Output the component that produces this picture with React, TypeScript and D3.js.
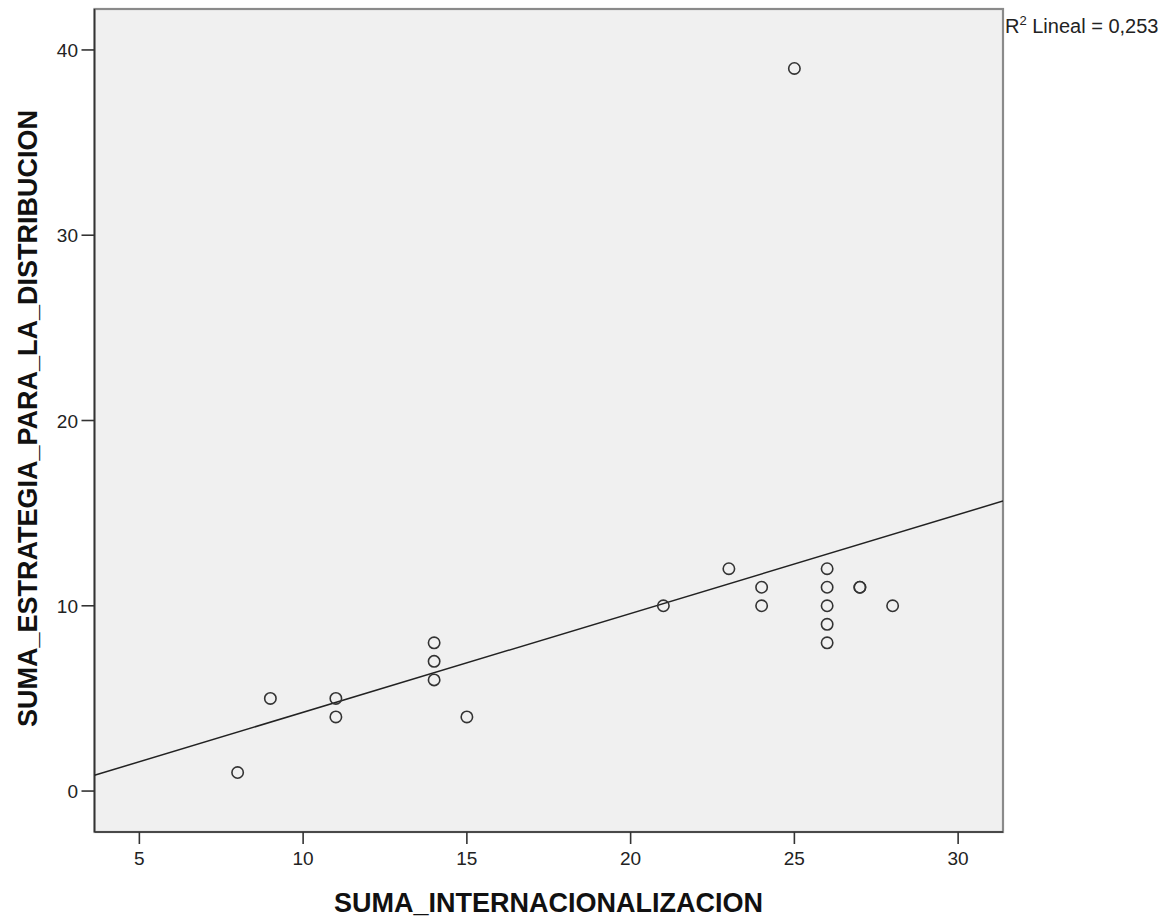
import React from "react";
import * as d3 from "d3";

const internacionalizacion = [8, 9, 11, 11, 14, 14, 14, 15, 21, 23, 24, 24, 25, 26, 26, 26, 26, 26, 27, 27, 28];
const estrategia = [1, 5, 5, 4, 8, 7, 6, 4, 10, 12, 11, 10, 39, 12, 11, 10, 9, 8, 11, 11, 10];
const xTicks = [5, 10, 15, 20, 25, 30];
const yTicks = [0, 10, 20, 30, 40];
const xTitle = "SUMA_INTERNACIONALIZACION";
const yTitle = "SUMA_ESTRATEGIA_PARA_LA_DISTRIBUCION";
const r2Label = "0,253";

export default function App() {
  const W = 1174, H = 920;
  const L = 94.5, R = 1003, T = 9, B = 832;
  const x = d3.scaleLinear().domain([3.63, 31.37]).range([L, R]);
  const y = d3.scaleLinear().domain([-2.21, 42.21]).range([B, T]);

  const n = internacionalizacion.length;
  const mx = d3.mean(internacionalizacion)!;
  const my = d3.mean(estrategia)!;
  let sxy = 0, sxx = 0;
  for (let i = 0; i < n; i++) {
    sxy += (internacionalizacion[i] - mx) * (estrategia[i] - my);
    sxx += (internacionalizacion[i] - mx) ** 2;
  }
  const slope = sxy / sxx;
  const icpt = my - slope * mx;
  const [x0, x1] = x.domain();
  const line = d3.line<number>().x((d) => x(d)).y((d) => y(icpt + slope * d));

  const font = "'Liberation Sans', Arial, sans-serif";

  return (
    <svg width={W} height={H} style={{ position: "absolute", left: 0, top: 0 }} fontFamily={font}>
      <rect x={0} y={0} width={W} height={H} fill="#fff" />
      <defs>
        <clipPath id="plot">
          <rect x={L} y={T} width={R - L} height={B - T} />
        </clipPath>
      </defs>
      <rect x={L} y={T} width={R - L} height={B - T} fill="#f0f0f0" stroke="#8a8a8a" strokeWidth={2.2} />
      <line x1={L} x2={L} y1={T} y2={B} stroke="#333" strokeWidth={1.6} />
      <line x1={L} x2={R} y1={B} y2={B} stroke="#333" strokeWidth={1.6} />
      <g clipPath="url(#plot)">
        <path d={line([x0, x1]) || ""} fill="none" stroke="#222" strokeWidth={1.5} />
        {internacionalizacion.map((v, i) => (
          <circle key={i} cx={x(v)} cy={y(estrategia[i])} r={5.7} fill="none" stroke="#333" strokeWidth={1.6} />
        ))}
      </g>
      {xTicks.map((t) => (
        <g key={"x" + t}>
          <line x1={x(t)} x2={x(t)} y1={B} y2={B + 12} stroke="#333" strokeWidth={1.6} />
          <text x={x(t)} y={865} textAnchor="middle" fontSize={19} fill="#222">{t}</text>
        </g>
      ))}
      {yTicks.map((t) => (
        <g key={"y" + t}>
          <line x1={L - 13} x2={L} y1={y(t)} y2={y(t)} stroke="#333" strokeWidth={1.6} />
          <text x={78} y={y(t) + 7} textAnchor="end" fontSize={19} fill="#222">{t}</text>
        </g>
      ))}
      <text x={548.5} y={912} textAnchor="middle" fontSize={27} fontWeight="bold" fill="#111">{xTitle}</text>
      <text transform={`translate(37,418.5) rotate(-90)`} textAnchor="middle" fontSize={27} fontWeight="bold" fill="#111">{yTitle}</text>
      <text x={1005} y={33} fontSize={20} fill="#222">
        R<tspan fontSize={13} dy={-8}>2</tspan><tspan dy={8}>{" Lineal = " + r2Label}</tspan>
      </text>
    </svg>
  );
}
